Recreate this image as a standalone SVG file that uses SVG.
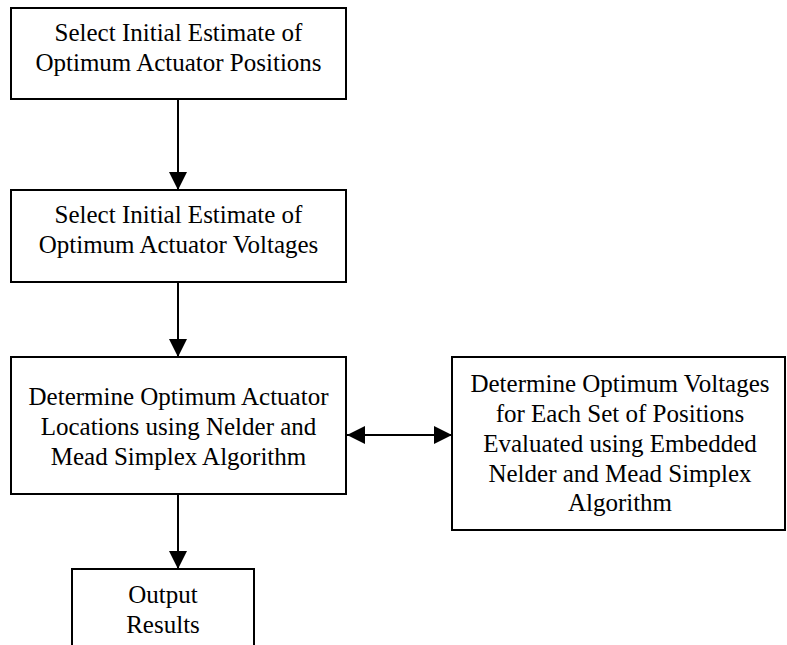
<svg xmlns="http://www.w3.org/2000/svg" width="787" height="645" viewBox="0 0 787 645">
<style>
.box{fill:#fff;stroke:#000;stroke-width:2}
.t{font-family:"Liberation Serif","Times New Roman",serif;font-size:25px;fill:#000;text-anchor:middle}
.c{stroke:#000;stroke-width:2;fill:none}
</style>
<defs>
<marker id="ah" viewBox="0 0 18 18" refX="18" refY="9" markerWidth="18" markerHeight="18" markerUnits="userSpaceOnUse" orient="auto-start-reverse">
<path d="M0,0 L18,9 L0,18 Z" fill="#000"/>
</marker>
</defs>
<rect width="787" height="645" fill="#fff"/>
<g id="n1">
<rect class="box" x="11" y="8" width="335" height="91"/>
<text class="t" x="178.5" y="41">Select Initial Estimate of</text>
<text class="t" x="178.5" y="71">Optimum Actuator Positions</text>
</g>
<g id="n2">
<rect class="box" x="11" y="190" width="335" height="92"/>
<text class="t" x="178.5" y="223">Select Initial Estimate of</text>
<text class="t" x="178.5" y="253">Optimum Actuator Voltages</text>
</g>
<g id="n3">
<rect class="box" x="11" y="357" width="335" height="137"/>
<text class="t" x="178.5" y="405">Determine Optimum Actuator</text>
<text class="t" x="178.5" y="435">Locations using Nelder and</text>
<text class="t" x="178.5" y="465">Mead Simplex Algorithm</text>
</g>
<g id="n4">
<rect class="box" x="452" y="357" width="333" height="173"/>
<text class="t" x="620" y="392">Determine Optimum Voltages</text>
<text class="t" x="620" y="422">for Each Set of Positions</text>
<text class="t" x="620" y="452">Evaluated using Embedded</text>
<text class="t" x="620" y="482">Nelder and Mead Simplex</text>
<text class="t" x="620" y="511">Algorithm</text>
</g>
<g id="n5">
<rect class="box" x="72" y="569" width="182" height="90"/>
<text class="t" x="163" y="603">Output</text>
<text class="t" x="163" y="633">Results</text>
</g>
<g id="connectors">
<line class="c" x1="178" y1="99" x2="178" y2="190" marker-end="url(#ah)"/>
<line class="c" x1="178" y1="282" x2="178" y2="357" marker-end="url(#ah)"/>
<line class="c" x1="347" y1="435" x2="452" y2="435" marker-start="url(#ah)" marker-end="url(#ah)"/>
<line class="c" x1="178" y1="494" x2="178" y2="569" marker-end="url(#ah)"/>
</g>
</svg>
